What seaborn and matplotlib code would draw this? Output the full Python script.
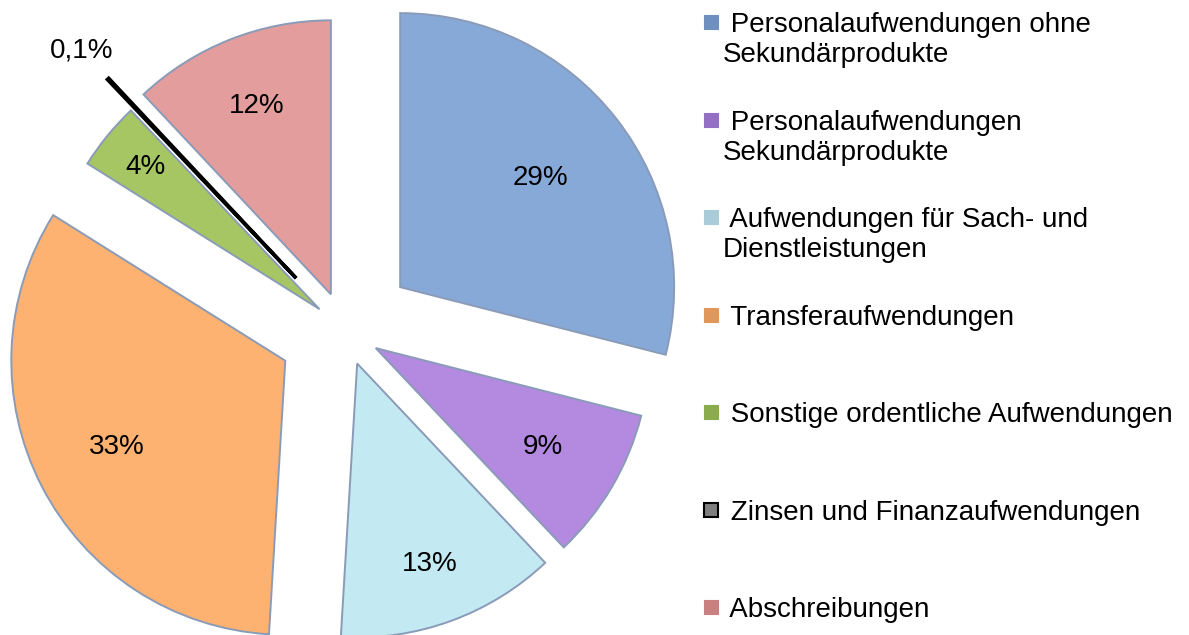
import numpy as np
import matplotlib.pyplot as plt
import seaborn as sns
from matplotlib.patches import Rectangle

categories = [
    "Personalaufwendungen ohne\nSekundärprodukte",
    "Personalaufwendungen\nSekundärprodukte",
    "Aufwendungen für Sach- und\nDienstleistungen",
    "Transferaufwendungen",
    "Sonstige ordentliche Aufwendungen",
    "Zinsen und Finanzaufwendungen",
    "Abschreibungen",
]
shares = [29, 9, 13, 33, 4, 0.1, 12]

colors = ["#87a9d8", "#b48ae0", "#c3e9f3", "#fdb271", "#a6c664", "#000000", "#e39d9d"]
legend_colors = ["#6f8fbf", "#9470c4", "#a9ccd8", "#e0985a", "#8aac4c", "#7f7f7f", "#c98080"]
explode = [0.255, 0.13, 0.13, 0.245, 0.12, 0.26, 0.14]
label_dist = [0.65, 0.71, 0.78, 0.69, 0.82, 1.14, 0.74]

sns.set_theme(style="white")
plt.rcParams["font.family"] = ["Liberation Sans", "DejaVu Sans"]
FS = 20

W, H = 1189, 635
fig = plt.figure(figsize=(W / 100, H / 100), dpi=100)
ax = fig.add_axes([0, 0, 1, 1])

# pie centre at (345, 330) px, radius 274 px
cx, cy, r = 345, 330, 274
wedges, _ = ax.pie(shares, colors=sns.color_palette(colors), explode=explode,
                   startangle=90, counterclock=False,
                   wedgeprops=dict(edgecolor="#8a9bb8", linewidth=1.4))
wedges[5].set_edgecolor("black")
wedges[5].set_linewidth(2.6)

for w, v, d in zip(wedges, shares, label_dist):
    mid = np.deg2rad((w.theta1 + w.theta2) / 2)
    x0, y0 = w.center
    txt = f"{v:g}".replace(".", ",") + "%"
    ax.text(x0 + d * np.cos(mid), y0 + d * np.sin(mid), txt,
            ha="center", va="center", fontsize=FS, color="black")

ax.set_aspect("auto")
ax.set_xlim(-cx / r, (W - cx) / r)
ax.set_ylim(-(H - cy) / r, cy / r)
ax.axis("off")

# legend on the right
ys = [22, 120, 217, 315, 412, 510, 607]
for lab, col, y in zip(categories, legend_colors, ys):
    edge = "black" if col == "#7f7f7f" else col
    fig.patches.append(Rectangle((704 / W, 1 - (y + 7) / H), 14 / W, 14 / H,
                                 transform=fig.transFigure, facecolor=col,
                                 edgecolor=edge, linewidth=1.5 if edge == "black" else 0.8))
    for j, line in enumerate(lab.split("\n")):
        fig.text(723 / W, 1 - (y + 30 * j) / H, (" " if j == 0 else "") + line,
                 ha="left", va="center_baseline", fontsize=FS, color="black")

fig.savefig("out.png", dpi=100)
